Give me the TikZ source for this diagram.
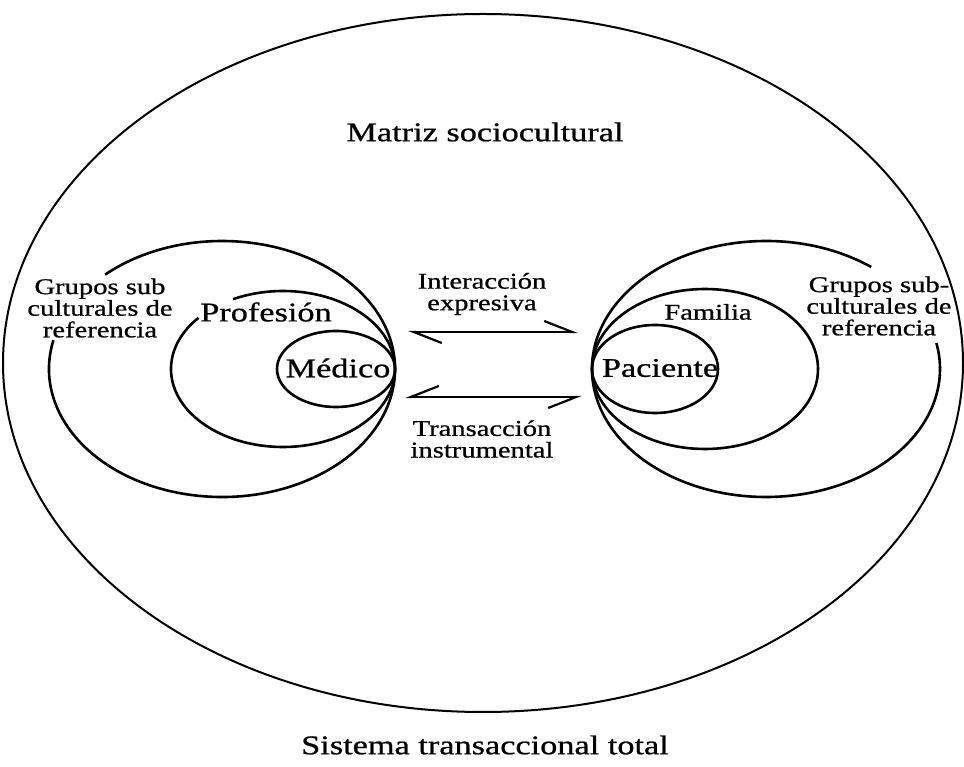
\documentclass[tikz,border=0pt]{standalone}
\usepackage{fontspec}
\setmainfont{Liberation Serif}[FakeStretch=1.27,FakeBold=0.8]
\usetikzlibrary{arrows.meta}
\tikzset{
  ring/.style={line width=1.3pt},
  outer/.style={line width=1pt},
  bigtxt/.style={font=\fontsize{13.5}{16}\selectfont, inner sep=0pt, align=center},
  smalltxt/.style={font=\fontsize{11.25}{10.8}\selectfont, inner sep=0pt, align=center},
  hp/.style={line width=1.1pt, {Straight Barb[harpoon,length=14pt,width=11pt]}-{Straight Barb[harpoon,length=14pt,width=11pt]}},
  hpswap/.style={line width=1.1pt, {Straight Barb[harpoon,swap,length=14pt,width=11pt]}-{Straight Barb[harpoon,swap,length=14pt,width=11pt]}}
}
\begin{document}
\begin{tikzpicture}[x=0.5pt,y=0.5pt]
\useasboundingbox (0,0) rectangle (964,766);
% outer system
\coordinate (oc) at (483,403);
\draw[outer] (oc) ellipse [x radius=480, y radius=349];
% left side (medico)
\coordinate (mc) at (336,397);
\coordinate (pc) at (283,397);
\coordinate (glc) at (222,397);
\draw[ring] (mc) ellipse [x radius=59, y radius=38];
\draw[ring] ([shift={(139:112 and 78)}]pc) arc [start angle=139, end angle=476.5, x radius=112, y radius=78];
\draw[ring] ([shift={(167:173 and 128)}]glc) arc [start angle=167, end angle=492.5, x radius=173, y radius=128];
% right side (paciente)
\coordinate (pac) at (655,397);
\coordinate (fc) at (705,397);
\coordinate (grc) at (766,397);
\draw[ring] (pac) ellipse [x radius=63, y radius=44];
\draw[ring] (fc) ellipse [x radius=113, y radius=80];
\draw[ring] ([shift={(52.8:174 and 128)}]grc) arc [start angle=52.8, end angle=371.7, x radius=174, y radius=128];
% texts
\node[bigtxt] (matriz) at (485,634) {Matriz sociocultural};
\node[bigtxt] (sistema) at (485,21) {Sistema transaccional total};
\node[smalltxt] (gl) at (100,458) {Grupos sub\\culturales de\\referencia};
\node[bigtxt] (prof) at (266,454) {Profesión};
\node[bigtxt] (med) at (338,398) {Médico};
\node[bigtxt] (pact) at (660,398) {Paciente};
\node[smalltxt] (fam) at (708,454) {Familia};
\node[smalltxt] (gr) at (879,460) {Grupos sub-\\culturales de\\referencia};
\node[smalltxt] (inter) at (482,472) {Interacción\\expresiva};
\node[smalltxt] (trans) at (482,327) {Transacción\\instrumental};
% arrows
\coordinate (a1) at (408,434);
\coordinate (a2) at (578,434);
\coordinate (b1) at (405,369);
\coordinate (b2) at (582,369);
\draw[hp] (a1) -- (a2);
\draw[hpswap] (b1) -- (b2);
\end{tikzpicture}
\end{document}
